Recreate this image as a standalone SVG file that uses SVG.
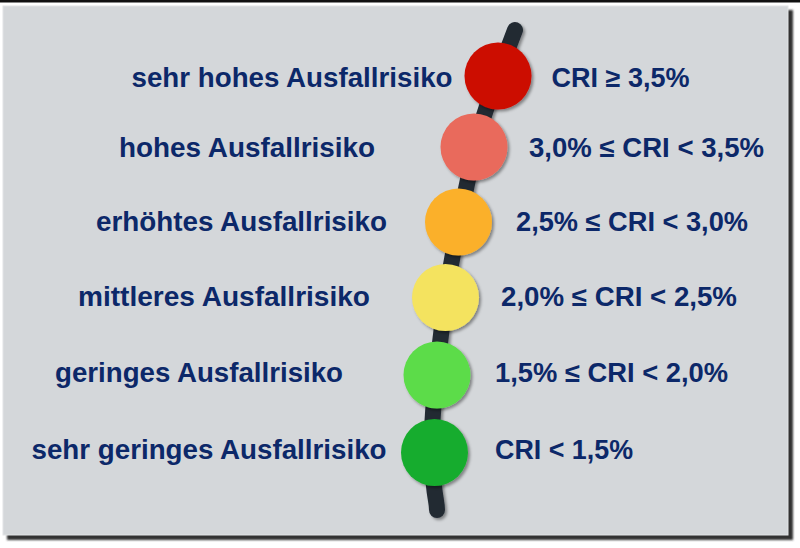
<svg xmlns="http://www.w3.org/2000/svg" width="800" height="548" viewBox="0 0 800 548">
<style>
.t{font-family:"Liberation Sans",Arial,sans-serif;font-weight:bold;font-size:27px;fill:#0c2869}
.c{filter:url(#sh)}
</style>
<defs>
<filter id="sh" x="-30%" y="-30%" width="160%" height="160%">
<feDropShadow dx="2" dy="2" stdDeviation="1.8" flood-color="#000" flood-opacity="0.4"/>
</filter>
<filter id="psh" x="-5%" y="-5%" width="110%" height="110%">
<feGaussianBlur stdDeviation="1"/>
</filter>
</defs>
<rect x="0" y="0" width="800" height="548" fill="#ffffff"/>
<rect x="0" y="0" width="800" height="2.5" fill="#111111"/>
<rect x="7" y="10" width="786" height="530" fill="#333333" filter="url(#psh)"/>
<rect x="3" y="6" width="785" height="529" fill="#d4d7da" stroke="#e2e4e6" stroke-width="1"/>
<g id="connectors">
<path d="M515,30 C500,70 480,120 472,160 S450,260 444,310 S430,420 432,460 S437,500 437,510" fill="none" stroke="#222a33" stroke-width="16" stroke-linecap="round" filter="url(#sh)"/>
</g>
<g id="n1"><circle class="c" cx="498" cy="76" r="33.5" fill="#cc0b00"/>
<text class="t" x="131.5" y="87" textLength="321" lengthAdjust="spacingAndGlyphs">sehr hohes Ausfallrisiko</text>
<text class="t" x="551.5" y="87" textLength="138" lengthAdjust="spacingAndGlyphs">CRI ≥ 3,5%</text></g>
<g id="n2"><circle class="c" cx="474" cy="147" r="33.5" fill="#e96a5b"/>
<text class="t" x="119" y="157" textLength="256" lengthAdjust="spacingAndGlyphs">hohes Ausfallrisiko</text>
<text class="t" x="529" y="157" textLength="235" lengthAdjust="spacingAndGlyphs">3,0% ≤ CRI &lt; 3,5%</text></g>
<g id="n3"><circle class="c" cx="458.5" cy="222" r="33.5" fill="#fbb02a"/>
<text class="t" x="96" y="231" textLength="291" lengthAdjust="spacingAndGlyphs">erhöhtes Ausfallrisiko</text>
<text class="t" x="516" y="231" textLength="232" lengthAdjust="spacingAndGlyphs">2,5% ≤ CRI &lt; 3,0%</text></g>
<g id="n4"><circle class="c" cx="445.5" cy="297.5" r="33.5" fill="#f4e35f"/>
<text class="t" x="78" y="306" textLength="292" lengthAdjust="spacingAndGlyphs">mittleres Ausfallrisiko</text>
<text class="t" x="501" y="306" textLength="236" lengthAdjust="spacingAndGlyphs">2,0% ≤ CRI &lt; 2,5%</text></g>
<g id="n5"><circle class="c" cx="437" cy="375" r="33.5" fill="#5bdc48"/>
<text class="t" x="55" y="382" textLength="288" lengthAdjust="spacingAndGlyphs">geringes Ausfallrisiko</text>
<text class="t" x="495" y="382" textLength="233" lengthAdjust="spacingAndGlyphs">1,5% ≤ CRI &lt; 2,0%</text></g>
<g id="n6"><circle class="c" cx="434.5" cy="452.5" r="33.5" fill="#18ac2d"/>
<text class="t" x="31.5" y="459" textLength="355" lengthAdjust="spacingAndGlyphs">sehr geringes Ausfallrisiko</text>
<text class="t" x="495" y="459" textLength="138" lengthAdjust="spacingAndGlyphs">CRI &lt; 1,5%</text></g>
</svg>
